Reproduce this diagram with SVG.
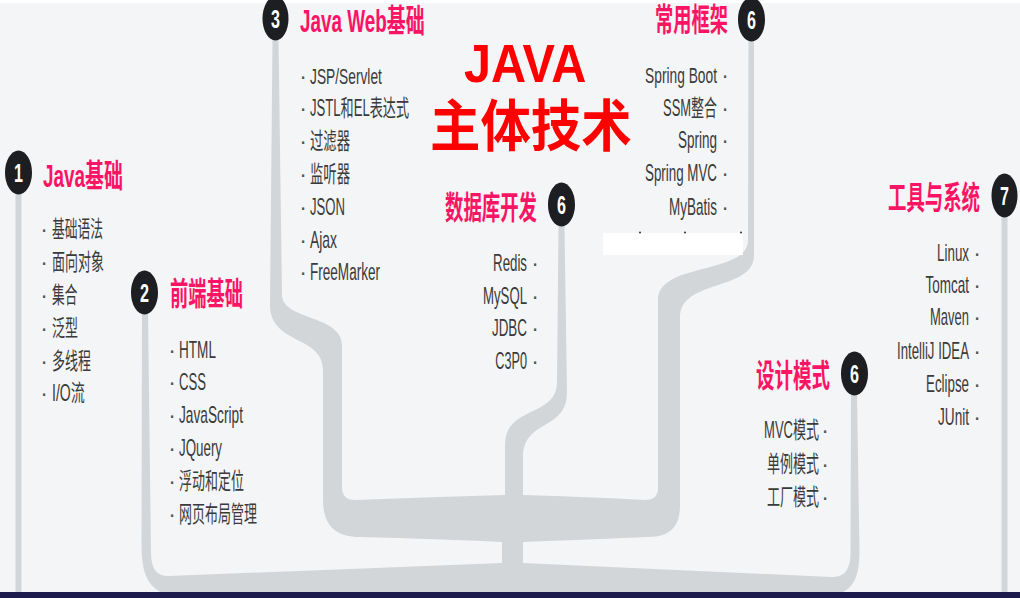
<svg xmlns="http://www.w3.org/2000/svg" width="1020" height="598" viewBox="0 0 1020 598">
<defs>
<style>
.br{fill:#d3d6d9}
.ball{fill:#1c1e21}
.num{fill:#ffffff;font-family:"Liberation Sans",sans-serif;font-weight:700;font-size:26px;text-anchor:middle}
.hd{fill:#fa1464;font-family:"Liberation Sans","Noto Sans CJK SC",sans-serif;font-weight:700;font-size:32px}
.it{fill:#3a3a3a;font-family:"Liberation Sans","Noto Sans CJK SC",sans-serif;font-size:23px}
.r{text-anchor:end}
.bu{fill:#555555;font-family:"Liberation Sans",sans-serif;font-size:23px;text-anchor:middle}
.title{fill:#ff0000;font-family:"Liberation Sans","Noto Sans CJK SC",sans-serif;font-weight:700}
</style>
</defs>
<rect x="0" y="0" width="1020" height="598" fill="#f4f5f7"/>
<rect x="0" y="0" width="1020" height="3" fill="#ffffff"/>

<g id="connectors">
<rect class="br" x="15.5" y="190" width="6" height="408"/>
<rect class="br" x="1001.5" y="215" width="6" height="383"/>
<path class="br" d="M272.5,38 L270,305 C270,345 323,335 323,370 L323,500 C323,525 335,537 360,537 Q440,539 502,542 L502,570 L523,570 L523,542 Q600,539 648,537 C672,537 680,525 680,505 L680,318 C680,278 754,292 754,255 L754,40 L748.5,40 L748,240 C748,275 658,262 658,300 L658,488 Q658,500 645,500 Q590,497 523,495 L523,458 C523,418 567,432 567,392 L564.5,226 L558.5,226 L557,382 C557,418 505,405 505,445 L505,495 Q430,497 355,500 Q342,500 342,487 L342,345 C342,315 282,320 282,295 L278.5,38 Z"/>
<path class="br" d="M142,311 L141.5,545 C141.5,582 152,597 190,598 L815,598 C852,597 859.5,582 859.5,550 L857,395 L851,395 L850.5,552 C850.5,568 846,577 832,577 L523,563 L502,563 L168,576 C156,576 151,568 151,552 L148,311 Z"/>
</g>

<g id="patch">
<rect x="603" y="233" width="140" height="22" fill="#ffffff"/>
<circle cx="640" cy="232.5" r="0.9" fill="#1a1a2a"/>
<circle cx="685" cy="232.5" r="0.9" fill="#1a1a2a"/>
<circle cx="741" cy="232.5" r="0.9" fill="#1a1a2a"/>
</g>

<g id="title">
<text class="title" font-size="54" transform="translate(464,82) scale(0.9,1)">JAVA</text>
<text class="title" font-size="56" transform="translate(430,146) scale(0.9,1)">主体技术</text>
</g>

<g id="node1">
<ellipse class="ball" cx="18.5" cy="172.5" rx="13.5" ry="22"/>
<text class="num" transform="translate(18.5,182) scale(0.62,1)">1</text>
<text class="hd" transform="translate(43,187) scale(0.592,1)">Java基础</text>
<text class="bu" x="44" y="237">·</text><text class="it" transform="translate(52,237) scale(0.555,1)">基础语法</text>
<text class="bu" x="44" y="270">·</text><text class="it" transform="translate(52,270) scale(0.565,1)">面向对象</text>
<text class="bu" x="44" y="303">·</text><text class="it" transform="translate(52,303) scale(0.55,1)">集合</text>
<text class="bu" x="44" y="336">·</text><text class="it" transform="translate(52,336) scale(0.565,1)">泛型</text>
<text class="bu" x="44" y="369">·</text><text class="it" transform="translate(52,369) scale(0.565,1)">多线程</text>
<text class="bu" x="44" y="401">·</text><text class="it" transform="translate(52,401) scale(0.61,1)">I/O流</text>
</g>

<g id="node2">
<ellipse class="ball" cx="144.5" cy="292.5" rx="13.5" ry="22"/>
<text class="num" transform="translate(144.5,302) scale(0.62,1)">2</text>
<text class="hd" transform="translate(170,305) scale(0.57,1)">前端基础</text>
<text class="bu" x="172" y="358">·</text><text class="it" transform="translate(179,358) scale(0.59,1)">HTML</text>
<text class="bu" x="172" y="390">·</text><text class="it" transform="translate(179,390) scale(0.571,1)">CSS</text>
<text class="bu" x="172" y="423">·</text><text class="it" transform="translate(179,423) scale(0.596,1)">JavaScript</text>
<text class="bu" x="172" y="456">·</text><text class="it" transform="translate(179,456) scale(0.58,1)">JQuery</text>
<text class="bu" x="172" y="489">·</text><text class="it" transform="translate(179,489) scale(0.565,1)">浮动和定位</text>
<text class="bu" x="172" y="522">·</text><text class="it" transform="translate(179,522) scale(0.565,1)">网页布局管理</text>
</g>

<g id="node3">
<ellipse class="ball" cx="275.5" cy="18.5" rx="13" ry="22"/>
<text class="num" transform="translate(275.5,28) scale(0.62,1)">3</text>
<text class="hd" transform="translate(300,32) scale(0.591,1)">Java Web基础</text>
<text class="bu" x="303" y="84">·</text><text class="it" transform="translate(310,84) scale(0.599,1)">JSP/Servlet</text>
<text class="bu" x="303" y="116">·</text><text class="it" transform="translate(310,116) scale(0.57,1)">JSTL和EL表达式</text>
<text class="bu" x="303" y="149">·</text><text class="it" transform="translate(310,149) scale(0.58,1)">过滤器</text>
<text class="bu" x="303" y="182">·</text><text class="it" transform="translate(310,182) scale(0.58,1)">监听器</text>
<text class="bu" x="303" y="215">·</text><text class="it" transform="translate(310,215) scale(0.571,1)">JSON</text>
<text class="bu" x="303" y="248">·</text><text class="it" transform="translate(310,248) scale(0.604,1)">Ajax</text>
<text class="bu" x="303" y="280">·</text><text class="it" transform="translate(310,280) scale(0.589,1)">FreeMarker</text>
</g>

<g id="node4">
<ellipse class="ball" cx="561.5" cy="204.5" rx="13.5" ry="22"/>
<text class="num" transform="translate(561.5,214) scale(0.62,1)">6</text>
<text class="hd" transform="translate(445,219) scale(0.575,1)">数据库开发</text>
<text class="it r" transform="translate(527,271) scale(0.578,1)">Redis</text><text class="bu" x="535" y="271">·</text>
<text class="it r" transform="translate(527,304) scale(0.574,1)">MySQL</text><text class="bu" x="535" y="304">·</text>
<text class="it r" transform="translate(527,336) scale(0.583,1)">JDBC</text><text class="bu" x="535" y="336">·</text>
<text class="it r" transform="translate(527,369) scale(0.55,1)">C3P0</text><text class="bu" x="535" y="369">·</text>
</g>

<g id="node5">
<ellipse class="ball" cx="751.5" cy="19.5" rx="13.5" ry="22"/>
<text class="num" transform="translate(751.5,29) scale(0.62,1)">6</text>
<text class="hd" transform="translate(655,31) scale(0.57,1)">常用框架</text>
<text class="it r" transform="translate(717,83) scale(0.599,1)">Spring Boot</text><text class="bu" x="725" y="83">·</text>
<text class="it r" transform="translate(717,116) scale(0.564,1)">SSM整合</text><text class="bu" x="725" y="116">·</text>
<text class="it r" transform="translate(717,148) scale(0.587,1)">Spring</text><text class="bu" x="725" y="148">·</text>
<text class="it r" transform="translate(717,181) scale(0.581,1)">Spring MVC</text><text class="bu" x="725" y="181">·</text>
<text class="it r" transform="translate(717,215) scale(0.587,1)">MyBatis</text><text class="bu" x="725" y="215">·</text>
</g>

<g id="node6">
<ellipse class="ball" cx="854.5" cy="373.5" rx="13.5" ry="22"/>
<text class="num" transform="translate(854.5,383) scale(0.62,1)">6</text>
<text class="hd" transform="translate(756,387) scale(0.578,1)">设计模式</text>
<text class="it r" transform="translate(819,438) scale(0.566,1)">MVC模式</text><text class="bu" x="825" y="438">·</text>
<text class="it r" transform="translate(819,472) scale(0.565,1)">单例模式</text><text class="bu" x="825" y="472">·</text>
<text class="it r" transform="translate(819,505) scale(0.565,1)">工厂模式</text><text class="bu" x="825" y="505">·</text>
</g>

<g id="node7">
<ellipse class="ball" cx="1004.5" cy="195.5" rx="13" ry="22"/>
<text class="num" transform="translate(1004.5,205) scale(0.62,1)">7</text>
<text class="hd" transform="translate(888,209) scale(0.575,1)">工具与系统</text>
<text class="it r" transform="translate(969,261) scale(0.582,1)">Linux</text><text class="bu" x="977" y="261">·</text>
<text class="it r" transform="translate(969,293) scale(0.587,1)">Tomcat</text><text class="bu" x="977" y="293">·</text>
<text class="it r" transform="translate(969,325) scale(0.565,1)">Maven</text><text class="bu" x="977" y="325">·</text>
<text class="it r" transform="translate(969,359) scale(0.575,1)">IntelliJ IDEA</text><text class="bu" x="977" y="359">·</text>
<text class="it r" transform="translate(969,392) scale(0.58,1)">Eclipse</text><text class="bu" x="977" y="392">·</text>
<text class="it r" transform="translate(969,425) scale(0.592,1)">JUnit</text><text class="bu" x="977" y="425">·</text>
</g>

<rect x="0" y="592" width="1020" height="6" fill="#1d1a4d"/>
</svg>
